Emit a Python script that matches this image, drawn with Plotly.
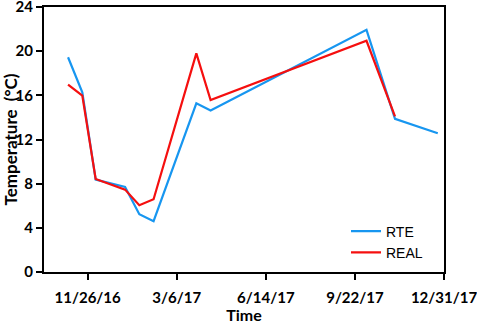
import plotly.graph_objects as go

rte_dates = ["2016-11-04", "2016-11-20", "2016-12-05", "2017-01-07", "2017-01-23",
             "2017-02-08", "2017-03-28", "2017-04-13", "2017-10-05", "2017-11-06", "2017-12-24"]
rte_values = [19.45, 16.27, 8.37, 7.7, 5.23, 4.6, 15.28, 14.62, 21.93, 13.87, 12.57]

real_dates = ["2016-11-04", "2016-11-20", "2016-12-05", "2017-01-07", "2017-01-23",
              "2017-02-08", "2017-03-28", "2017-04-13", "2017-10-05", "2017-11-06"]
real_values = [16.97, 15.97, 8.42, 7.46, 6.05, 6.59, 19.8, 15.58, 20.94, 14.1]

x_ticks = ["2016-11-26", "2017-03-06", "2017-06-14", "2017-09-22", "2017-12-31"]
x_tick_labels = ["11/26/16", "3/6/17", "6/14/17", "9/22/17", "12/31/17"]
y_ticks = [0, 4, 8, 12, 16, 20, 24]

fig = go.Figure()
fig.add_trace(go.Scatter(x=rte_dates, y=rte_values, mode="lines", name="RTE",
                         line=dict(color="#1796F0", width=2.2)))
fig.add_trace(go.Scatter(x=real_dates, y=real_values, mode="lines", name="REAL",
                         line=dict(color="#F50F0F", width=2.2)))

tick_font = dict(family="Lato", size=15, color="black", weight="bold")
fig.update_layout(
    width=477, height=324,
    margin=dict(l=44, r=33, t=7, b=52),
    plot_bgcolor="white", paper_bgcolor="white",
    showlegend=True,
    legend=dict(x=0.755, y=0.213, xanchor="left", yanchor="top",
                font=dict(family="Liberation Sans", size=14, color="black"),
                bgcolor="rgba(0,0,0,0)", itemwidth=30, tracegroupgap=0),
    xaxis=dict(
        range=["2016-10-08", "2017-12-31"],
        tickvals=x_ticks, ticktext=x_tick_labels,
        showgrid=False, zeroline=False, automargin=False,
        showline=True, linecolor="black", linewidth=2, mirror=True,
        ticks="outside", ticklen=6, tickwidth=2, tickcolor="black",
        tickfont=tick_font, ticklabeloverflow="allow", ticklabelstandoff=5,
        title=dict(text="Time", font=dict(family="Lato", size=16, color="black", weight="bold"),
                   standoff=3),
    ),
    yaxis=dict(
        range=[0, 24], tickvals=y_ticks,
        showgrid=False, zeroline=False, automargin=False,
        showline=True, linecolor="black", linewidth=2, mirror=True,
        ticks="outside", ticklen=6, tickwidth=2, tickcolor="black",
        tickfont=tick_font, ticklabeloverflow="allow",
        title=dict(text="Temperature  (°C)", font=dict(family="Lato", size=17, color="black", weight="bold"),
                   standoff=2),
    ),
)

fig.write_html("out.html", config={"displayModeBar": False},
               post_script="document.body.style.margin='0';document.body.style.padding='0';")
